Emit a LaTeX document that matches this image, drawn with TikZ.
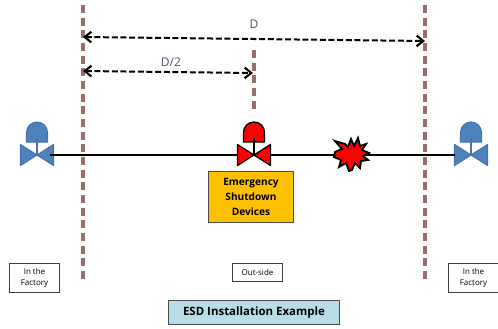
\documentclass[tikz,border=0pt]{standalone}
\usepackage{fontspec}
\setmainfont{Open Sans}
\usetikzlibrary{arrows.meta}
\definecolor{vblue}{RGB}{79,129,189}
\definecolor{vedge}{RGB}{70,115,175}
\definecolor{boundary}{RGB}{155,110,110}
\definecolor{ttl}{RGB}{183,222,232}
\definecolor{amber}{RGB}{255,192,0}
\definecolor{txtblue}{RGB}{70,85,105}
\tikzset{
  x=0.75pt,y=-0.75pt,
  boundaryline/.style={draw=boundary,line width=2.3pt,dash pattern=on 6pt off 3.5pt},
  dimline/.style={draw=black,line width=1.5pt,dash pattern=on 4.5pt off 2pt,{Straight Barb[length=5pt,width=8pt,line width=1.6pt]}-{Straight Barb[length=5pt,width=8pt,line width=1.6pt]}},
  pipe/.style={draw=black,line width=1.2pt},
  labelbox/.style={draw=black!75,line width=.7pt,fill=white,minimum width=38pt,align=center,font=\fontsize{6}{8.4}\selectfont,inner sep=0pt},
  bluevalve/.style={draw=vedge,fill=vblue,line width=.8pt,line join=round},
  redvalve/.style={draw=black,fill=red,line width=1pt,line join=round},
  dimtext/.style={font=\fontsize{9}{10}\selectfont,text=txtblue,inner sep=0pt},
  pics/valve/.style={code={
    \path[#1] (-16.5,-10.5) -- (0,0) -- (-16.5,10.5) -- cycle;
    \path[#1] (16.5,-10.5) -- (0,0) -- (16.5,10.5) -- cycle;
    \path[#1] (-10.5,-13) -- (-10.5,-22.5) arc[start angle=180,end angle=360,radius=10.5] -- (10.5,-13) -- cycle;
    \path[#1,line width=2pt] (0,-17) -- (0,0);
  }}
}
\begin{document}
\begin{tikzpicture}
\useasboundingbox (0,0) rectangle (498,328);
\fill[white] (0,0) rectangle (498,328);
\coordinate (bl1) at (83,5);
\coordinate (bl2) at (83,282);
\coordinate (br1) at (425,5);
\coordinate (br2) at (425,282);
\coordinate (bm1) at (254,50);
\coordinate (bm2) at (254,112);
\coordinate (dL) at (83,37);
\coordinate (dR) at (425,41);
\coordinate (hL) at (83,71);
\coordinate (hR) at (253,73);
\draw[boundaryline] (bl1) -- (bl2);
\draw[boundaryline] (br1) -- (br2);
\draw[boundaryline] (bm1) -- (bm2);
\draw[dimline] (dL) -- (dR);
\draw[dimline] (hL) -- (hR);
\node[dimtext] (dlabel) at (254,24) {D};
\node[dimtext] (hlabel) at (171,62) {D/2};
\coordinate (vl) at (37,155);
\coordinate (vm) at (254,155);
\coordinate (vr) at (471,155);
\coordinate (pipeL) at (50,155);
\coordinate (pipeR) at (455,155);
\pic at (vl) {valve={bluevalve}};
\pic at (vr) {valve={bluevalve}};
\draw[pipe] (pipeL) -- (pipeR);
\pic at (vm) {valve={redvalve}};
\fill[red,draw=black,line width=1.4pt,line join=miter]
 (335,152) -- (342,149) -- (335,141) -- (345,144) -- (348,147) -- (351,139) -- (354,146)
 -- (358,138) -- (360,146) -- (366,144) -- (362,150) -- (369,153) -- (363,156) -- (368,160)
 -- (361,161) -- (360,168) -- (355,163) -- (352,170) -- (349,171) -- (346,163) -- (339,167)
 -- (341,160) -- (334,157) -- cycle;
\node[draw=black!70,line width=1pt,fill=amber,minimum width=63.5pt,minimum height=38pt,inner sep=0pt,align=center,font=\bfseries\fontsize{7.6}{11}\selectfont] (esd) at (251,197) {Emergency\\Shutdown\\Devices};
\node[labelbox,minimum height=22pt] (fl) at (34.5,278) {In the\\Factory};
\node[labelbox,minimum height=14pt] (os) at (257.5,272.5) {Out-side};
\node[labelbox,minimum height=22pt] (fr) at (473.5,278) {In the\\Factory};
\node[draw=black!70,line width=1pt,fill=ttl,minimum width=128pt,minimum height=18pt,inner sep=0pt,font=\bfseries\fontsize{8.6}{10}\selectfont] (title) at (254,312.5) {ESD Installation Example};
\end{tikzpicture}
\end{document}
